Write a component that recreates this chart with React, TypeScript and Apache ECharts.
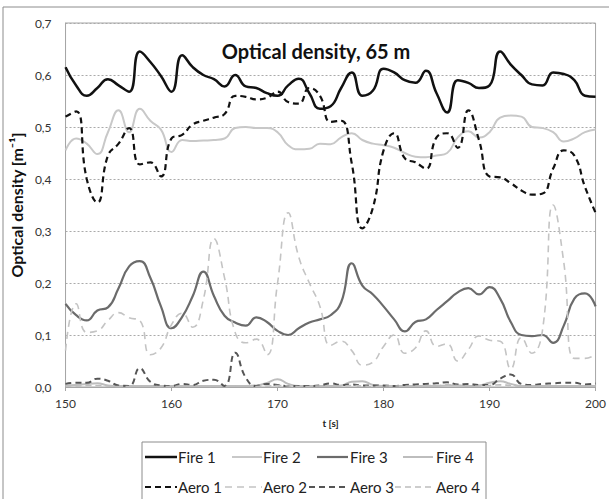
import React, { useEffect, useRef } from "react";
import * as echarts from "echarts";

const TIME = [150,151,152,153,154,155,156,157,158,159,160,161,162,163,164,165,166,167,168,169,170,171,172,173,174,175,176,177,178,179,180,181,182,183,184,185,186,187,188,189,190,191,192,193,194,195,196,197,198,199,200];

const FIRE1 = [0.615,0.58,0.56,0.575,0.592,0.58,0.568,0.645,0.625,0.598,0.568,0.638,0.615,0.6,0.592,0.578,0.6,0.578,0.575,0.565,0.56,0.58,0.593,0.565,0.535,0.54,0.575,0.605,0.56,0.57,0.612,0.605,0.59,0.585,0.608,0.565,0.528,0.59,0.585,0.575,0.58,0.645,0.62,0.6,0.582,0.58,0.605,0.602,0.59,0.56,0.558];
const FIRE2 = [0.455,0.478,0.468,0.448,0.49,0.532,0.49,0.535,0.512,0.495,0.452,0.475,0.473,0.474,0.475,0.478,0.498,0.5,0.498,0.498,0.49,0.465,0.457,0.458,0.468,0.467,0.48,0.488,0.475,0.468,0.465,0.46,0.45,0.443,0.442,0.445,0.45,0.48,0.492,0.48,0.49,0.518,0.522,0.52,0.5,0.498,0.49,0.472,0.478,0.49,0.495];
const FIRE3 = [0.16,0.138,0.128,0.147,0.153,0.19,0.232,0.242,0.21,0.155,0.113,0.135,0.175,0.222,0.175,0.137,0.124,0.118,0.134,0.125,0.108,0.1,0.113,0.124,0.13,0.138,0.163,0.238,0.195,0.178,0.155,0.13,0.107,0.125,0.13,0.148,0.165,0.182,0.19,0.178,0.192,0.17,0.125,0.1,0.098,0.1,0.085,0.118,0.17,0.18,0.155];
const FIRE4 = [0.003,0.004,0.006,0.007,0.003,0.002,0.002,0.002,0.002,0.002,0.002,0.002,0.002,0.002,0.002,0.002,0.002,0.002,0.003,0.008,0.015,0.006,0.002,0.002,0.002,0.002,0.003,0.01,0.011,0.004,0.002,0.002,0.002,0.002,0.002,0.002,0.003,0.003,0.002,0.003,0.008,0.011,0.006,0.002,0.002,0.002,0.002,0.002,0.002,0.002,0.002];
const AERO1 = [0.52,0.53,0.4,0.355,0.445,0.468,0.498,0.428,0.432,0.405,0.478,0.485,0.505,0.512,0.518,0.525,0.56,0.558,0.553,0.556,0.568,0.548,0.545,0.575,0.56,0.51,0.512,0.43,0.305,0.345,0.455,0.488,0.44,0.432,0.42,0.48,0.488,0.46,0.532,0.475,0.405,0.403,0.392,0.378,0.37,0.372,0.42,0.455,0.445,0.385,0.335];
const AERO2 = [0.07,0.16,0.105,0.108,0.128,0.143,0.133,0.128,0.062,0.075,0.12,0.142,0.115,0.168,0.285,0.21,0.105,0.085,0.092,0.062,0.2,0.335,0.25,0.2,0.155,0.08,0.088,0.07,0.042,0.048,0.078,0.1,0.065,0.075,0.108,0.078,0.083,0.05,0.072,0.098,0.09,0.088,0.035,0.095,0.065,0.11,0.35,0.24,0.055,0.055,0.063];
const AERO3 = [0.006,0.008,0.008,0.016,0.012,0.003,0.002,0.036,0.01,0.003,0.002,0.006,0.004,0.012,0.014,0.002,0.066,0.018,0.002,0.006,0.004,0.002,0.002,0.002,0.003,0.007,0.004,0.005,0.003,0.003,0.003,0.002,0.004,0.005,0.006,0.007,0.009,0.005,0.006,0.004,0.004,0.016,0.024,0.006,0.004,0.006,0.007,0.008,0.008,0.005,0.007];
const AERO4 = [0.002,0.002,0.003,0.003,0.002,0.001,0.001,0.002,0.002,0.001,0.001,0.002,0.002,0.002,0.001,0.001,0.002,0.002,0.001,0.002,0.003,0.002,0.001,0.001,0.002,0.002,0.002,0.003,0.002,0.001,0.002,0.002,0.002,0.002,0.003,0.003,0.004,0.003,0.002,0.002,0.003,0.004,0.003,0.002,0.002,0.002,0.002,0.002,0.002,0.002,0.002];

const SERIES_NAMES = ["Fire 1", "Fire 2", "Fire 3", "Fire 4", "Aero 1", "Aero 2", "Aero 3", "Aero 4"];
const SERIES_VALUES = [FIRE1, FIRE2, FIRE3, FIRE4, AERO1, AERO2, AERO3, AERO4];
const SERIES_STYLE = [
  { color: "#111111", width: 2.5, dash: null as number[] | null },
  { color: "#c8c8c8", width: 2, dash: null },
  { color: "#6b6b6b", width: 2.2, dash: null },
  { color: "#bdbdbd", width: 2, dash: null },
  { color: "#111111", width: 2.2, dash: [6, 4] },
  { color: "#c4c4c4", width: 1.6, dash: [7, 5] },
  { color: "#555555", width: 2, dash: [6, 4] },
  { color: "#bdbdbd", width: 1.6, dash: [6, 4] },
];

const TITLE = "Optical density, 65 m";
const Y_NAME = "Optical density [m⁻¹]";
const X_NAME = "t [s]";

const FONT = "Lato, 'Open Sans', sans-serif";

export default function App() {
  const ref = useRef<HTMLDivElement>(null);
  useEffect(() => {
    if (!ref.current) return;
    const chart = echarts.init(ref.current, undefined, { renderer: "svg" });

    // legend drawn as graphics (Excel-like grid legend)
    const sampleStart = [[145, 232, 317, 403], [145, 225, 309, 395]];
    const sampleEnd = [177, 262, 348, 433];
    const textX = [178, 263, 350, 436];
    const rowY = [457, 487];
    const legendGraphics: any[] = [];
    SERIES_NAMES.forEach((n, i) => {
      const row = Math.floor(i / 4);
      const col = i % 4;
      const st = SERIES_STYLE[i];
      legendGraphics.push({
        type: "line",
        silent: true,
        shape: { x1: sampleStart[row][col], y1: rowY[row], x2: sampleEnd[col], y2: rowY[row] },
        style: { stroke: st.color, lineWidth: st.width, lineDash: st.dash || undefined },
      });
      legendGraphics.push({
        type: "text",
        silent: true,
        x: textX[col],
        y: rowY[row],
        style: { text: n, fontFamily: FONT, fontSize: 15, fill: "#222", verticalAlign: "middle", align: "left" },
      });
    });

    chart.setOption({
      animation: false,
      textStyle: { fontFamily: FONT },
      title: {
        text: TITLE,
        left: 311,
        top: 36,
        textAlign: "center",
        textStyle: { fontFamily: FONT, fontSize: 20, fontWeight: "bold", color: "#111" },
      },
      grid: { left: 65, top: 23, width: 533, height: 364, show: true, borderColor: "#a6a6a6", borderWidth: 1, backgroundColor: "transparent" },
      xAxis: {
        type: "value",
        min: 150,
        max: 200,
        interval: 10,
        name: X_NAME,
        nameLocation: "middle",
        nameGap: 31,
        nameTextStyle: { fontFamily: FONT, fontSize: 10, fontWeight: "bold", color: "#222" },
        axisLine: { show: true, onZero: false, lineStyle: { color: "#a6a6a6", width: 1 } },
        axisTick: { show: true, length: 4, inside: false, lineStyle: { color: "#a6a6a6" } },
        axisLabel: { fontFamily: FONT, fontSize: 12, color: "#333", margin: 10, formatter: (v: number) => String(v) },
        splitLine: { show: false },
      },
      yAxis: {
        type: "value",
        min: 0,
        max: 0.7,
        interval: 0.1,
        name: Y_NAME,
        nameLocation: "middle",
        nameGap: 27,
        nameRotate: 90,
        nameTextStyle: { fontFamily: FONT, fontSize: 16, fontWeight: "bold", color: "#111" },
        axisLine: { show: true, lineStyle: { color: "#a6a6a6", width: 1 } },
        axisTick: { show: false },
        axisLabel: { fontFamily: FONT, fontSize: 12, color: "#333", margin: 14, formatter: (v: number) => v.toFixed(1).replace(".", ",") },
        splitLine: { show: true, lineStyle: { color: "#aaaaaa", type: [2, 2], width: 1 } },
      },
      graphic: [
        { type: "rect", shape: { x: 3, y: 7, width: 640, height: 540 }, style: { fill: "none", stroke: "#8c8c8c", lineWidth: 1 }, silent: true },
        { type: "rect", shape: { x: 142, y: 442, width: 344, height: 80 }, style: { fill: "none", stroke: "#8c8c8c", lineWidth: 1 }, silent: true },
        ...legendGraphics,
      ],
      series: SERIES_NAMES.map((n, i) => ({
        name: n,
        type: "line",
        data: TIME.map((t, j) => [t, SERIES_VALUES[i][j]]),
        smooth: 0.5,
        symbol: "none",
        showSymbol: false,
        lineStyle: { color: SERIES_STYLE[i].color, width: SERIES_STYLE[i].width, type: SERIES_STYLE[i].dash || "solid" },
        itemStyle: { color: SERIES_STYLE[i].color },
        z: 2 + i,
      })),
    });
    return () => chart.dispose();
  }, []);
  return <div ref={ref} style={{ width: 609, height: 499, position: "absolute", left: 0, top: 0 }} />;
}
